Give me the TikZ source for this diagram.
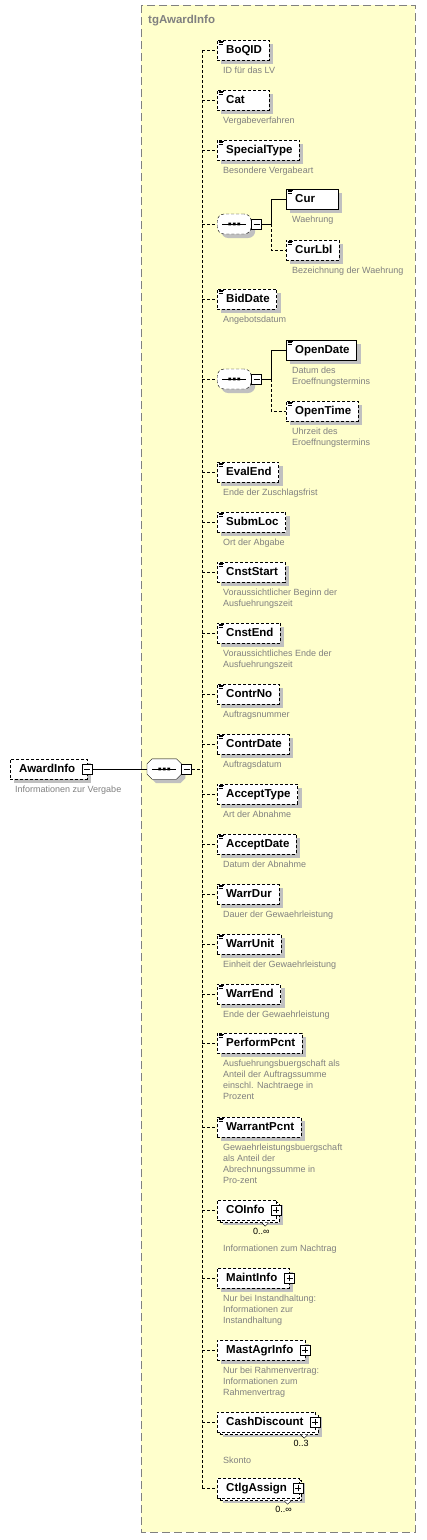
\documentclass[tikz,border=0pt]{standalone}
\usepackage{fontspec}
\setmainfont{Liberation Sans}
\usetikzlibrary{shadows}
\definecolor{groupfill}{RGB}{255,255,204}
\definecolor{groupline}{RGB}{128,128,128}
\definecolor{shadegray}{RGB}{192,192,192}
\definecolor{notegray}{RGB}{128,128,128}
\newsavebox\elembox
\tikzstyle{elem}=[draw=black,fill=white,anchor=west,minimum height=20pt,inner xsep=4pt,inner ysep=0pt,text height=8.5pt,text depth=2.5pt,font=\fontsize{11.5}{13}\selectfont\bfseries]
\tikzstyle{optional}=[dash pattern=on 3pt off 2pt]
\tikzstyle{single}=[general shadow={fill=shadegray,shadow xshift=4pt,shadow yshift=-4pt}]
\tikzstyle{many}=[general shadow={fill=shadegray,shadow xshift=6pt,shadow yshift=-5pt},preaction={draw=black,fill=white,dash pattern=on 3pt off 2pt,transform canvas={shift={(2.5pt,-2.5pt)}}}]
\tikzstyle{simple}=[execute at begin node={\hspace*{5pt}\setbox\elembox\hbox\bgroup},
  execute at end node={\egroup\usebox\elembox\ifdim\wd\elembox<36pt\hspace*{\dimexpr36pt-\wd\elembox\relax}\fi\hspace*{3pt}},
  path picture={\draw[solid,line width=0.7pt] ([shift={(1.5pt,-1.2pt)}]path picture bounding box.north west) -- ++(5pt,0pt)
    ([shift={(1.5pt,-2.8pt)}]path picture bounding box.north west) -- ++(4pt,0pt)
    ([shift={(1.5pt,-4.4pt)}]path picture bounding box.north west) -- ++(4pt,0pt);}]
\tikzstyle{complex}=[execute at begin node=\hspace*{5pt},execute at end node=\hspace*{8pt}]
\tikzstyle{note}=[anchor=north west,inner sep=0pt,align=left,text=notegray,font=\fontsize{9}{11}\selectfont]
\tikzstyle{mult}=[anchor=north east,inner sep=0pt,font=\fontsize{9}{11}\selectfont]
\tikzstyle{seqbox}=[draw=black,fill=white,anchor=west,minimum width=34pt,minimum height=20pt,inner sep=0pt,
  general shadow={fill=shadegray,shadow xshift=4pt,shadow yshift=-4pt}]
\tikzstyle{toggle}=[draw=black,fill=white,solid,minimum size=10pt,inner sep=0pt]
\tikzstyle{minus}=[toggle,path picture={\draw ([xshift=-3pt]path picture bounding box.center) -- ([xshift=3pt]path picture bounding box.center);}]
\tikzstyle{plus}=[toggle,path picture={\draw ([xshift=-3pt]path picture bounding box.center) -- ([xshift=3pt]path picture bounding box.center)
    ([yshift=-3pt]path picture bounding box.center) -- ([yshift=3pt]path picture bounding box.center);}]
% three dots on a line, inside a sequence box
\newcommand{\seqdots}[1]{\draw[solid] ([xshift=5pt]#1.west) -- ([xshift=-5pt]#1.east);
  \fill ([shift={(-5.9pt,1.4pt)}]#1.center) rectangle ++(2.8,2.8)
        ([shift={(-1.4pt,1.4pt)}]#1.center) rectangle ++(2.8,2.8)
        ([shift={(3.1pt,1.4pt)}]#1.center) rectangle ++(2.8,2.8);}
\newcommand{\caret}[1]{\draw[solid,fill=white] ([shift={(-15pt,-2.5pt)}]#1.south east) -- ++(3.5,3.5) -- ++(3.5,-3.5);}
\begin{document}
\begin{tikzpicture}[x=1pt,y=-1pt]
  \useasboundingbox (0,0) rectangle (426,1540);
  % group box
  \draw[groupline,fill=groupfill,line width=1pt,dash pattern=on 8pt off 4pt] (141,5) rectangle (415,1532);
  \node[anchor=base west,inner sep=0pt,text=groupline,font=\fontsize{11.5}{13}\selectfont\bfseries] (grouptitle) at (148,23) {tgAwardInfo};

  % root element and main sequence
  \node[elem,complex,single,optional] (awardinfo) at (10,769) {AwardInfo};
  \node[minus] (awardinfom) at (awardinfo.east) {};
  \node[note] (awardinfon) at ([shift={(5pt,-7pt)}]awardinfo.south west) {Informationen zur Vergabe};
  \node[anchor=west,minimum width=34pt,minimum height=20pt,inner sep=0pt] (mseq) at (147,769) {};
  \draw[fill=white,general shadow={fill=shadegray,shadow xshift=4pt,shadow yshift=-4pt}]
    ([xshift=5pt]mseq.north west) -- ([xshift=-5pt]mseq.north east) -- ([yshift=-5pt]mseq.north east)
    -- ([yshift=5pt]mseq.south east) -- ([xshift=-5pt]mseq.south east) -- ([xshift=5pt]mseq.south west)
    -- ([yshift=5pt]mseq.south west) -- ([yshift=-5pt]mseq.north west) -- cycle;
  \seqdots{mseq}
  \node[minus,anchor=west] (mseqm) at (mseq.east) {};
  \coordinate (bus) at (202,769);
  \draw (awardinfom.east) -- (mseq.west);
  \draw[optional] (mseqm.east) -- (bus);

  % children
  \node[elem,simple,single,optional] (boqid) at (217,50) {BoQID};
  \node[note] (boqidn) at ([shift={(6pt,-7pt)}]boqid.south west) {ID für das LV};
  \node[elem,simple,single,optional] (cat) at (217,100) {Cat};
  \node[note] (catn) at ([shift={(6pt,-7pt)}]cat.south west) {Vergabeverfahren};
  \node[elem,simple,single,optional] (specialtype) at (217,150) {SpecialType};
  \node[note] (specialtypen) at ([shift={(6pt,-7pt)}]specialtype.south west) {Besondere Vergabeart};

  \node[seqbox,optional,rounded corners=7pt] (seqcur) at (217,224) {};
  \seqdots{seqcur}
  \node[minus,anchor=west] (seqcurm) at (seqcur.east) {};
  \node[elem,simple,single] (cur) at (286,199) {Cur};
  \node[note] (curn) at ([shift={(6pt,-7pt)}]cur.south west) {Waehrung};
  \node[elem,simple,single,optional] (curlbl) at (286,250) {CurLbl};
  \node[note] (curlbln) at ([shift={(6pt,-7pt)}]curlbl.south west) {Bezeichnung der Waehrung};
  \coordinate (seqcurj) at ([xshift=9pt]seqcurm.east);
  \draw (seqcurm.east) -- (seqcurj) |- (cur.west);
  \draw[optional] (seqcurj) |- (curlbl.west);

  \node[elem,simple,single,optional] (biddate) at (217,299) {BidDate};
  \node[note] (biddaten) at ([shift={(6pt,-7pt)}]biddate.south west) {Angebotsdatum};

  \node[seqbox,optional,rounded corners=7pt] (seqopen) at (217,379) {};
  \seqdots{seqopen}
  \node[minus,anchor=west] (seqopenm) at (seqopen.east) {};
  \node[elem,simple,single] (opendate) at (286,350) {OpenDate};
  \node[note] (opendaten) at ([shift={(6pt,-7pt)}]opendate.south west) {Datum des\\Eroeffnungstermins};
  \node[elem,simple,single,optional] (opentime) at (286,411) {OpenTime};
  \node[note] (opentimen) at ([shift={(6pt,-7pt)}]opentime.south west) {Uhrzeit des\\Eroeffnungstermins};
  \coordinate (seqopenj) at ([xshift=9pt]seqopenm.east);
  \draw (seqopenm.east) -- (seqopenj) |- (opendate.west);
  \draw[optional] (seqopenj) |- (opentime.west);

  \node[elem,simple,single,optional] (evalend) at (217,472) {EvalEnd};
  \node[note] (evalendn) at ([shift={(6pt,-7pt)}]evalend.south west) {Ende der Zuschlagsfrist};
  \node[elem,simple,single,optional] (submloc) at (217,522) {SubmLoc};
  \node[note] (submlocn) at ([shift={(6pt,-7pt)}]submloc.south west) {Ort der Abgabe};
  \node[elem,simple,single,optional] (cnststart) at (217,572) {CnstStart};
  \node[note] (cnststartn) at ([shift={(6pt,-7pt)}]cnststart.south west) {Voraussichtlicher Beginn der\\Ausfuehrungszeit};
  \node[elem,simple,single,optional] (cnstend) at (217,633) {CnstEnd};
  \node[note] (cnstendn) at ([shift={(6pt,-7pt)}]cnstend.south west) {Voraussichtliches Ende der\\Ausfuehrungszeit};
  \node[elem,simple,single,optional] (contrno) at (217,694) {ContrNo};
  \node[note] (contrnon) at ([shift={(6pt,-7pt)}]contrno.south west) {Auftragsnummer};
  \node[elem,simple,single,optional] (contrdate) at (217,744) {ContrDate};
  \node[note] (contrdaten) at ([shift={(6pt,-7pt)}]contrdate.south west) {Auftragsdatum};
  \node[elem,simple,single,optional] (accepttype) at (217,794) {AcceptType};
  \node[note] (accepttypen) at ([shift={(6pt,-7pt)}]accepttype.south west) {Art der Abnahme};
  \node[elem,simple,single,optional] (acceptdate) at (217,844) {AcceptDate};
  \node[note] (acceptdaten) at ([shift={(6pt,-7pt)}]acceptdate.south west) {Datum der Abnahme};
  \node[elem,simple,single,optional] (warrdur) at (217,894) {WarrDur};
  \node[note] (warrdurn) at ([shift={(6pt,-7pt)}]warrdur.south west) {Dauer der Gewaehrleistung};
  \node[elem,simple,single,optional] (warrunit) at (217,944) {WarrUnit};
  \node[note] (warrunitn) at ([shift={(6pt,-7pt)}]warrunit.south west) {Einheit der Gewaehrleistung};
  \node[elem,simple,single,optional] (warrend) at (217,994) {WarrEnd};
  \node[note] (warrendn) at ([shift={(6pt,-7pt)}]warrend.south west) {Ende der Gewaehrleistung};
  \node[elem,simple,single,optional] (performpcnt) at (217,1043) {PerformPcnt};
  \node[note] (performpcntn) at ([shift={(6pt,-7pt)}]performpcnt.south west) {Ausfuehrungsbuergschaft als\\Anteil der Auftragssumme\\einschl. Nachtraege in\\Prozent};
  \node[elem,simple,single,optional] (warrantpcnt) at (217,1127) {WarrantPcnt};
  \node[note] (warrantpcntn) at ([shift={(6pt,-7pt)}]warrantpcnt.south west) {Gewaehrleistungsbuergschaft\\als Anteil der\\Abrechnungssumme in\\Pro-zent};

  \node[elem,complex,many,optional] (coinfo) at (217,1210) {COInfo};
  \node[plus] (coinfop) at ([xshift=-1pt]coinfo.east) {};
  \caret{coinfo}
  \node[mult] (coinfoo) at ([shift={(-7pt,-8pt)}]coinfo.south east) {0..∞};
  \node[note] (coinfon) at ([shift={(6pt,-25pt)}]coinfo.south west) {Informationen zum Nachtrag};
  \node[elem,complex,single,optional] (maintinfo) at (217,1278) {MaintInfo};
  \node[plus] (maintinfop) at (maintinfo.east) {};
  \node[note] (maintinfon) at ([shift={(6pt,-7pt)}]maintinfo.south west) {Nur bei Instandhaltung:\\Informationen zur\\Instandhaltung};
  \node[elem,complex,single,optional] (mastagrinfo) at (217,1350) {MastAgrInfo};
  \node[plus] (mastagrinfop) at (mastagrinfo.east) {};
  \node[note] (mastagrinfon) at ([shift={(6pt,-7pt)}]mastagrinfo.south west) {Nur bei Rahmenvertrag:\\Informationen zum\\Rahmenvertrag};
  \node[elem,complex,many,optional] (cashdiscount) at (217,1422) {CashDiscount};
  \node[plus] (cashdiscountp) at ([xshift=-1pt]cashdiscount.east) {};
  \caret{cashdiscount}
  \node[mult] (cashdiscounto) at ([shift={(-7pt,-8pt)}]cashdiscount.south east) {0..3};
  \node[note] (cashdiscountn) at ([shift={(6pt,-25pt)}]cashdiscount.south west) {Skonto};
  \node[elem,complex,many,optional] (ctlgassign) at (217,1488) {CtlgAssign};
  \node[plus] (ctlgassignp) at ([xshift=-1pt]ctlgassign.east) {};
  \caret{ctlgassign}
  \node[mult] (ctlgassigno) at ([shift={(-7pt,-8pt)}]ctlgassign.south east) {0..∞};

  % bus and branches
  \draw[optional] (bus |- boqid.west) -- (bus |- ctlgassign.west);
  \draw[optional]
    (bus |- boqid.west) -- (boqid.west)
    (bus |- cat.west) -- (cat.west)
    (bus |- specialtype.west) -- (specialtype.west)
    (bus |- seqcur.west) -- (seqcur.west)
    (bus |- biddate.west) -- (biddate.west)
    (bus |- seqopen.west) -- (seqopen.west)
    (bus |- evalend.west) -- (evalend.west)
    (bus |- submloc.west) -- (submloc.west)
    (bus |- cnststart.west) -- (cnststart.west)
    (bus |- cnstend.west) -- (cnstend.west)
    (bus |- contrno.west) -- (contrno.west)
    (bus |- contrdate.west) -- (contrdate.west)
    (bus |- accepttype.west) -- (accepttype.west)
    (bus |- acceptdate.west) -- (acceptdate.west)
    (bus |- warrdur.west) -- (warrdur.west)
    (bus |- warrunit.west) -- (warrunit.west)
    (bus |- warrend.west) -- (warrend.west)
    (bus |- performpcnt.west) -- (performpcnt.west)
    (bus |- warrantpcnt.west) -- (warrantpcnt.west)
    (bus |- coinfo.west) -- (coinfo.west)
    (bus |- maintinfo.west) -- (maintinfo.west)
    (bus |- mastagrinfo.west) -- (mastagrinfo.west)
    (bus |- cashdiscount.west) -- (cashdiscount.west)
    (bus |- ctlgassign.west) -- (ctlgassign.west);
\end{tikzpicture}
\end{document}
